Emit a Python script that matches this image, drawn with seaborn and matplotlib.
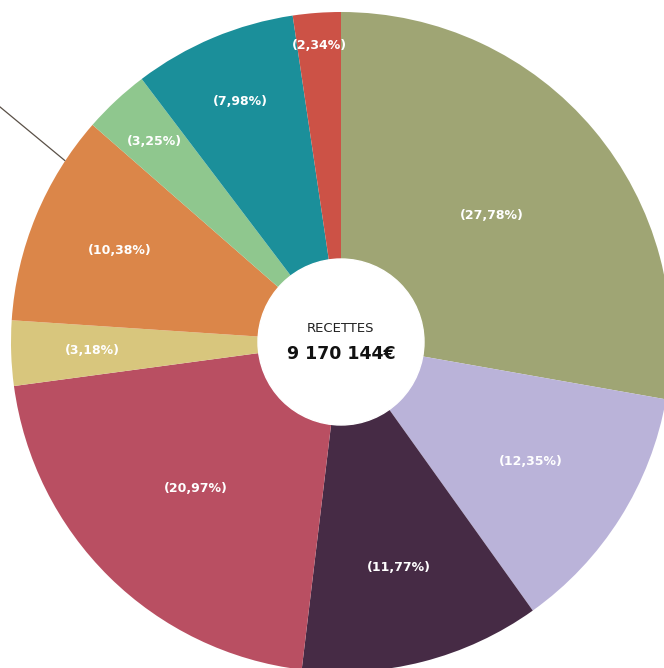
import numpy as np
import matplotlib.pyplot as plt
import seaborn as sns

# données
PARTS = [27.78, 12.35, 11.77, 20.97, 3.18, 10.38, 3.25, 7.98, 2.34]
LABELS = ['(27,78%)', '(12,35%)', '(11,77%)', '(20,97%)', '(3,18%)',
          '(10,38%)', '(3,25%)', '(7,98%)', '(2,34%)']
COLORS = ['#9fa574', '#bab3d9', '#462b45', '#b94f62', '#d8c67d',
          '#db8649', '#8fc78e', '#1b8f9a', '#cc5246']
TOTAL_TITLE = 'RECETTES'
TOTAL_VALUE = '9 170 144€'

# mise en page (pixels)
W, H = 664, 668
CX, CY = 341, H - 342
R = 330
R_HOLE = 83
LABEL_DIST = [0.595, 0.68, 0.705, 0.625, 0.755, 0.725, 0.83, 0.79, 0.9]

sns.set_theme(style='white')
plt.rcParams['font.family'] = ['DejaVu Sans']

fig = plt.figure(figsize=(W / 100, H / 100), dpi=100)
ax = fig.add_axes([0, 0, 1, 1])

wedges, _ = ax.pie(PARTS, colors=COLORS, center=(CX, CY), radius=R,
                   startangle=90, counterclock=False, frame=True,
                   wedgeprops=dict(linewidth=0))
ax.set_xlim(0, W)
ax.set_ylim(0, H)
ax.set_aspect('equal')
ax.axis('off')

# étiquettes des pourcentages
for w, lab, d in zip(wedges, LABELS, LABEL_DIST):
    ang = np.deg2rad((w.theta1 + w.theta2) / 2)
    ax.text(CX + d * R * np.cos(ang), CY + d * R * np.sin(ang), lab,
            ha='center', va='center', color='white', fontsize=9,
            fontweight='bold')

# trait de rappel (part orange)
w6 = wedges[5]
t_lo, t_hi = sorted([w6.theta1, w6.theta2])
a0 = np.deg2rad(t_lo + 0.21 * (t_hi - t_lo))
x0, y0 = CX + R * np.cos(a0), CY + R * np.sin(a0)
ax.plot([x0, x0 - 75], [y0, y0 + 62], color='#5a5047', lw=0.9,
        solid_capstyle='butt')

# cercle central
ax.add_patch(plt.Circle((CX, CY), R_HOLE, color='white', zorder=5))
ax.text(CX, CY + 13, TOTAL_TITLE, ha='center', va='center', fontsize=9.5,
        color='#222222', zorder=6)
ax.text(CX, CY - 12, TOTAL_VALUE, ha='center', va='center', fontsize=12.5,
        fontweight='bold', color='#111111', zorder=6)

fig.savefig('out.png', dpi=100, facecolor='white')
